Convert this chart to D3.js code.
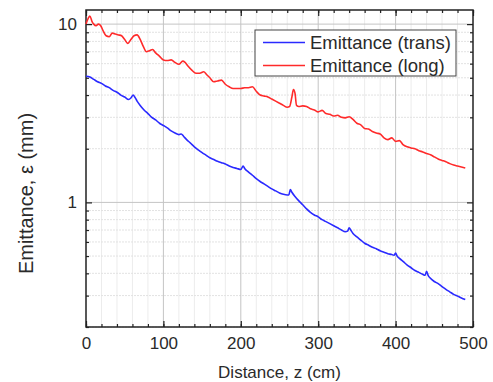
<!DOCTYPE html>
<html>
<head>
<meta charset="utf-8">
<script src="https://cdn.jsdelivr.net/npm/d3@7"></script>
<style>
  body { margin: 0; background: #fff; }
  text { font-family: Arial, "Liberation Sans", sans-serif; fill: #2a2a2a; }
</style>
</head>
<body>
<div id="chart"></div>
<script>
// emittance along the beamline
const zTrans = [0,5,10,15,20,25,30,35,40,45,50,55,58,61,63,66,70,75,80,85,90,95,100,105,110,115,120,123,126,130,135,140,145,150,155,160,165,170,175,180,185,190,195,200,203,205,210,215,220,225,230,235,240,245,250,255,260,262,264,266,270,275,280,285,290,295,300,305,310,315,320,325,330,335,338,340,342,345,350,355,360,365,370,375,380,385,390,395,398,400,402,405,410,415,420,425,430,435,438,440,442,445,450,455,460,465,470,475,480,485,490]
const trans = [5.1,5.05,4.9,4.75,4.65,4.5,4.4,4.25,4.15,4.0,3.9,3.78,3.85,4.0,3.9,3.7,3.5,3.3,3.15,3.0,2.9,2.78,2.7,2.62,2.52,2.45,2.4,2.42,2.35,2.25,2.15,2.05,1.97,1.9,1.84,1.78,1.74,1.7,1.67,1.64,1.6,1.57,1.55,1.53,1.6,1.55,1.48,1.42,1.36,1.31,1.27,1.23,1.19,1.16,1.13,1.11,1.1,1.1,1.18,1.14,1.08,1.02,0.97,0.92,0.88,0.85,0.83,0.8,0.78,0.76,0.74,0.72,0.7,0.685,0.69,0.72,0.70,0.67,0.64,0.615,0.59,0.575,0.56,0.55,0.535,0.525,0.515,0.51,0.505,0.52,0.5,0.485,0.465,0.445,0.43,0.415,0.405,0.395,0.39,0.41,0.39,0.375,0.36,0.35,0.337,0.325,0.315,0.305,0.298,0.291,0.285]

const zLong = [0,3,5,8,10,13,16,19,22,26,30,34,38,42,46,50,54,58,62,66,70,74,78,82,86,90,95,100,105,110,115,120,125,128,132,137,142,147,152,156,160,165,170,175,180,185,190,195,200,205,210,215,220,225,230,235,240,245,250,255,260,263,266,268,270,272,275,280,285,290,295,300,305,310,315,320,325,330,335,340,345,350,355,360,365,370,375,380,385,390,395,400,405,410,415,420,425,430,435,440,445,450,455,460,465,470,475,480,485,490]
const long = [10.0,10.8,11.1,10.3,10.0,9.8,10.0,9.8,9.2,8.6,8.5,8.9,8.8,8.7,8.6,8.2,7.8,8.2,8.6,8.7,8.2,7.5,7.0,7.1,7.2,6.9,6.6,6.3,6.25,6.3,6.1,5.95,6.2,6.1,5.8,5.5,5.3,5.3,5.4,5.2,5.0,4.75,4.8,4.85,4.6,4.45,4.35,4.35,4.35,4.4,4.4,4.45,4.2,4.0,3.95,3.9,3.8,3.7,3.6,3.5,3.42,3.45,3.9,4.3,4.1,3.5,3.45,3.48,3.45,3.35,3.3,3.22,3.28,3.15,3.12,3.05,3.08,3.0,2.98,3.02,2.92,2.78,2.72,2.6,2.58,2.5,2.45,2.42,2.3,2.25,2.3,2.2,2.22,2.1,2.05,2.02,2.0,1.95,1.92,1.88,1.85,1.8,1.75,1.72,1.69,1.65,1.62,1.6,1.58,1.56]

const seriesNames = ['Emittance (trans)', 'Emittance (long)']
const seriesColors = ['#2a2aff', '#ff2a2a']
const xTicks = [0, 100, 200, 300, 400, 500]
const yTicks = [1, 10]

const width = 493, height = 382
const margin = { top: 10, right: 20, bottom: 55, left: 86 }
const w = width - margin.left - margin.right
const h = height - margin.top - margin.bottom

const svg = d3.select('#chart').append('svg')
    .attr('width', width)
    .attr('height', height)

const g = svg.append('g').attr('transform', 'translate(' + margin.left + ',' + margin.top + ')')

const x = d3.scaleLinear().domain([0, 500]).range([0, w])
const y = d3.scaleLog().domain([0.2, 12]).range([h, 0])

const xMinor = d3.range(0, 501, 20)
const yMinor = [0.2, 0.3, 0.4, 0.5, 0.6, 0.7, 0.8, 0.9, 2, 3, 4, 5, 6, 7, 8, 9]

// grid
const grid = g.append('g')
grid.selectAll('.xminor').data(xMinor.filter(d => d % 100 !== 0)).enter().append('line')
    .attr('x1', d => x(d)).attr('x2', d => x(d)).attr('y1', 0).attr('y2', h)
    .attr('stroke', '#ececec').attr('stroke-width', 1)
grid.selectAll('.yminor').data(yMinor).enter().append('line')
    .attr('x1', 0).attr('x2', w).attr('y1', d => y(d)).attr('y2', d => y(d))
    .attr('stroke', '#e2e2e2').attr('stroke-width', 1).attr('stroke-dasharray', '2,1')
grid.selectAll('.xmajor').data(xTicks.slice(1, -1)).enter().append('line')
    .attr('x1', d => x(d)).attr('x2', d => x(d)).attr('y1', 0).attr('y2', h)
    .attr('stroke', '#c4c4c4').attr('stroke-width', 1)
grid.selectAll('.ymajor').data(yTicks).enter().append('line')
    .attr('x1', 0).attr('x2', w).attr('y1', d => y(d)).attr('y2', d => y(d))
    .attr('stroke', '#c4c4c4').attr('stroke-width', 1)

// axes, ticks pointing inward
const xAxis = g.append('g').attr('transform', 'translate(0,' + h + ')')
    .call(d3.axisBottom(x).tickValues(xTicks).tickSize(-6).tickPadding(10).tickFormat(d3.format('d')))
const xAxisMinor = g.append('g').attr('transform', 'translate(0,' + h + ')')
    .call(d3.axisBottom(x).tickValues(xMinor).tickSize(-3).tickFormat(''))
const xTop = g.append('g')
    .call(d3.axisTop(x).tickValues(xTicks).tickSize(-6).tickFormat(''))
const xTopMinor = g.append('g')
    .call(d3.axisTop(x).tickValues(xMinor).tickSize(-3).tickFormat(''))

const yAxis = g.append('g')
    .call(d3.axisLeft(y).tickValues(yTicks).tickSize(-6).tickPadding(9).tickFormat(d3.format('d')))
const yAxisMinor = g.append('g')
    .call(d3.axisLeft(y).tickValues(yMinor).tickSize(-3).tickFormat(''))
const yRight = g.append('g').attr('transform', 'translate(' + w + ',0)')
    .call(d3.axisRight(y).tickValues(yTicks).tickSize(-6).tickFormat(''))
const yRightMinor = g.append('g').attr('transform', 'translate(' + w + ',0)')
    .call(d3.axisRight(y).tickValues(yMinor).tickSize(-3).tickFormat(''))

g.selectAll('.domain').remove()
g.selectAll('.tick line').attr('stroke', '#222').attr('stroke-width', 1.2)
g.selectAll('.tick text').attr('font-size', 17).attr('fill', '#2a2a2a')
    .style('font-family', 'Arial, "Liberation Sans", sans-serif')

g.append('rect').attr('x', 0).attr('y', 0).attr('width', w).attr('height', h)
    .attr('fill', 'none').attr('stroke', '#222').attr('stroke-width', 1.5)

// curves
const line = d3.line().x(d => x(d[0])).y(d => y(d[1])).curve(d3.curveMonotoneX)
const transPts = zTrans.map((z, i) => [z, trans[i]])
const longPts = zLong.map((z, i) => [z, long[i]])

g.append('path').datum(longPts).attr('d', line)
    .attr('fill', 'none').attr('stroke', seriesColors[1]).attr('stroke-width', 1.6)
g.append('path').datum(transPts).attr('d', line)
    .attr('fill', 'none').attr('stroke', seriesColors[0]).attr('stroke-width', 1.6)

// legend
const legend = g.append('g').attr('transform', 'translate(' + (255 - margin.left) + ',' + (30 - margin.top) + ')')
legend.append('rect').attr('width', 201).attr('height', 46)
    .attr('fill', '#fff').attr('stroke', '#444').attr('stroke-width', 1)
seriesNames.forEach((name, i) => {
    const ly = 12.5 + i * 23
    legend.append('line').attr('x1', 8).attr('x2', 50).attr('y1', ly).attr('y2', ly)
        .attr('stroke', seriesColors[i]).attr('stroke-width', 1.6)
    legend.append('text').attr('x', 55).attr('y', ly).attr('dy', '0.35em')
        .attr('font-size', 18.5).text(name)
})

// axis titles
svg.append('text').attr('x', margin.left + w / 2).attr('y', 378)
    .attr('text-anchor', 'middle').attr('font-size', 17).text('Distance, z (cm)')
svg.append('text').attr('transform', 'translate(33,' + (margin.top + h / 2 + 25) + ') rotate(-90)')
    .attr('text-anchor', 'middle').attr('font-size', 20).text('Emittance, ε (mm)')
</script>
</body>
</html>
